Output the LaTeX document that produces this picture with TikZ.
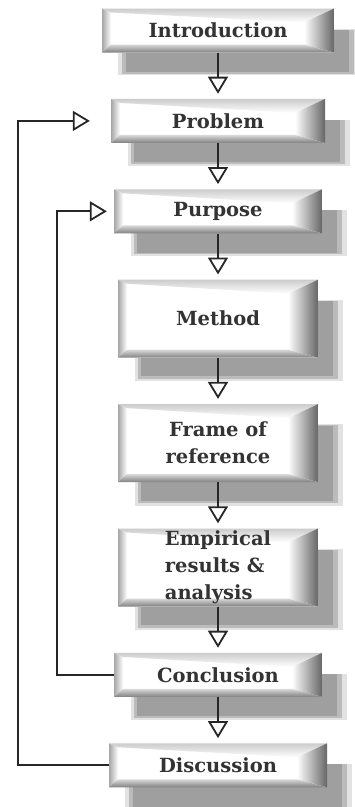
\documentclass[tikz,border=0pt]{standalone}
\usepackage{fontspec}
\newfontfamily\stagefont{DejaVu Serif}
\usetikzlibrary{arrows.meta, shadows, positioning}
\tikzset{%
>={Triangle[open, width=20pt, length=17pt]},
  % Specifications for style of nodes:
            stage/.style = {rectangle, fill=white, inner sep=0pt,
                            minimum width=210pt, minimum height=44pt,
                            font=\stagefont\bfseries\fontsize{19.5}{27}\selectfont,
                            text=black!80, align=center,
                            drop shadow={shadow xshift=20pt, shadow yshift=-21pt,
                                         fill=black!45, opacity=.25, shadow scale=1.04},
                            drop shadow={shadow xshift=20pt, shadow yshift=-21pt,
                                         fill=black!45, opacity=.45, shadow scale=1},
                            drop shadow={shadow xshift=20pt, shadow yshift=-21pt,
                                         fill=black!45, opacity=.6, shadow scale=.96},
                            path picture={
                              \path (path picture bounding box.north west) coordinate (nw)
                                    (path picture bounding box.north east) coordinate (ne)
                                    (path picture bounding box.south east) coordinate (se)
                                    (path picture bounding box.south west) coordinate (sw);
                              % bevels round the face
                              \shade[left color=black!35, right color=white]
                                (nw) -- (sw) -- ([shift={(9pt,8pt)}]sw) -- ([shift={(9pt,-4pt)}]nw) -- cycle;
                              \shade[top color=black!20, bottom color=white]
                                (nw) -- (ne) -- ([shift={(-30pt,-14pt)}]ne) -- ([shift={(9pt,-4pt)}]nw) -- cycle;
                              \shade[left color=white, right color=black!60]
                                (ne) -- (se) -- ([shift={(-30pt,8pt)}]se) -- ([shift={(-30pt,-14pt)}]ne) -- cycle;
                              \shade[top color=black!15, bottom color=black!50]
                                (sw) -- (se) -- ([shift={(-30pt,8pt)}]se) -- ([shift={(9pt,8pt)}]sw) -- cycle;
                            }},
            tall/.style = {minimum height=78pt},
            link/.style = {->, draw=black!85, line width=1.8pt}
}
\begin{document}
\begin{tikzpicture}[node distance=46pt]
                        \useasboundingbox (0,0) rectangle (354pt,-807pt);
                        \node[stage, minimum width=232pt] (intro) at (218pt,-30.5pt) {Introduction};
                        \node[stage, minimum width=214pt] (problem) [below=of intro] {Problem};
                        \node[stage, minimum width=208pt] (purpose) [below=of problem] {Purpose};
                        \node[stage, tall, minimum width=200pt] (method) [below=of purpose] {Method};
                        \node[stage, tall, minimum width=200pt] (frame) [below=of method] {Frame of\\reference};
                        \node[stage, tall, minimum width=200pt, align=left] (results) [below=of frame] {Empirical\\results \&\\analysis};
                        \node[stage, minimum width=208pt] (conclusion) [below=of results] {Conclusion};
                        \node[stage, minimum width=218pt] (discussion) [below=of conclusion] {Discussion};
                        \coordinate (outer) at (18pt,0);
                        \coordinate (inner) at (57pt,0);
                        \draw[link, shorten >=5pt] (intro)--(problem);
                        \draw[link, shorten >=5pt] (problem)--(purpose);
                        \draw[link, shorten >=5pt] (purpose)--(method);
                        \draw[link, shorten >=5pt] (method)--(frame);
                        \draw[link, shorten >=5pt] (frame)--(results);
                        \draw[link, shorten >=5pt] (results)--(conclusion);
                        \draw[link, shorten >=5pt] (conclusion)--(discussion);
                        \draw[link, shorten >=21pt] (discussion.west) -- (discussion.west -| outer) |- (problem.west);
                        \draw[link, shorten >=7pt] (conclusion.west) -- (conclusion.west -| inner) |- (purpose.west);
                    \end{tikzpicture}
\end{document}
